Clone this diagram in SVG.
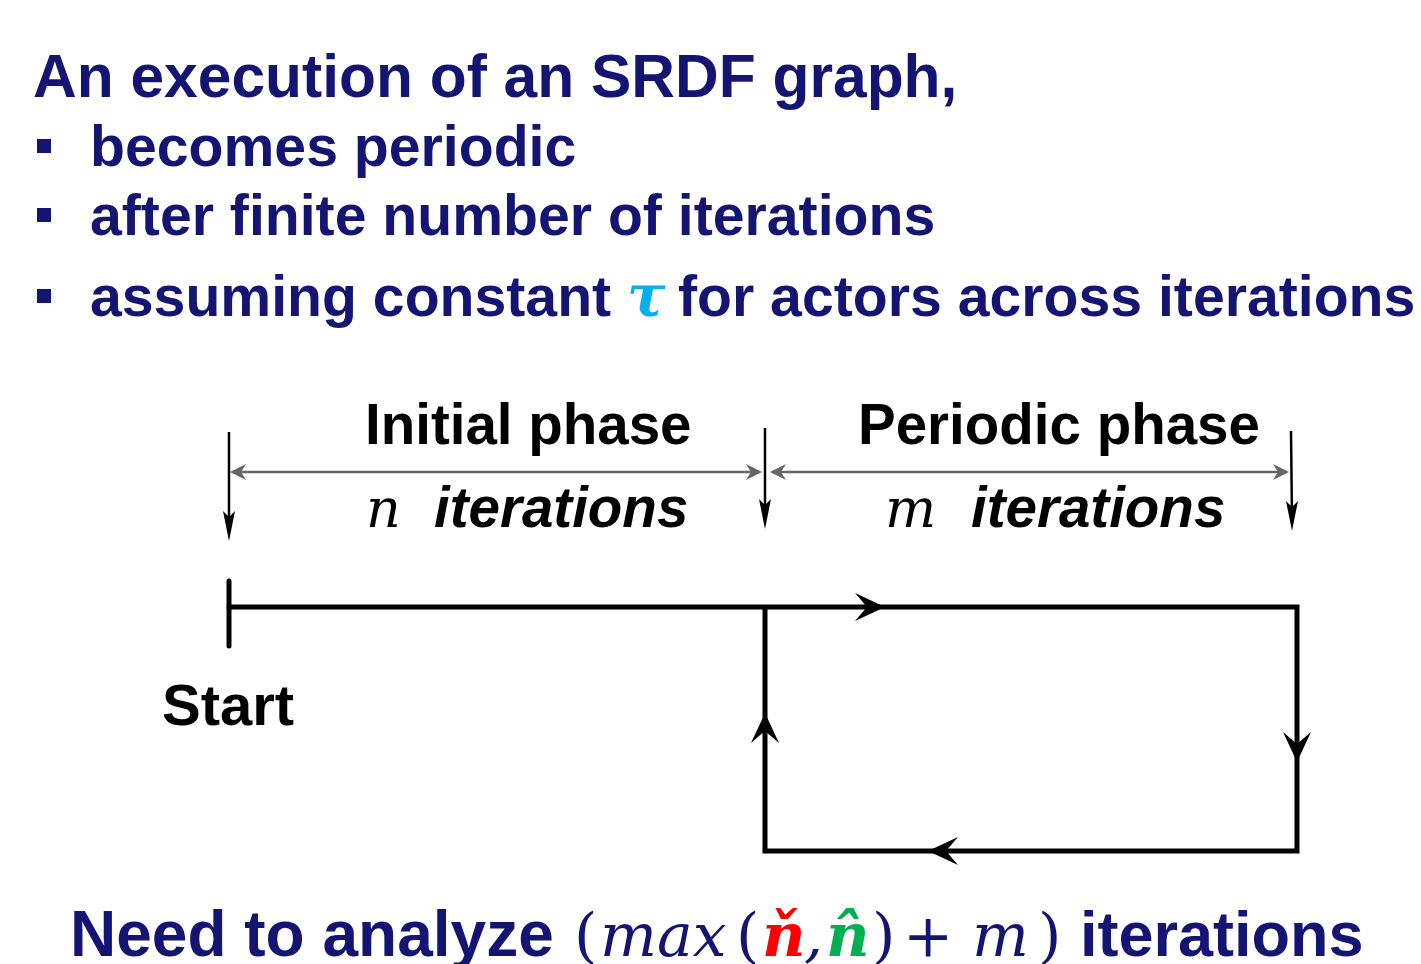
<svg xmlns="http://www.w3.org/2000/svg" width="1421" height="964" viewBox="0 0 1421 964">
<style>
.navy{fill:#141473;font-family:"Liberation Sans",Arial,sans-serif;font-weight:bold}
.blk{fill:#000;font-family:"Liberation Sans",Arial,sans-serif;font-weight:bold}
.math{font-family:"DejaVu Serif","Liberation Serif",serif;font-style:italic}
.loop{stroke:#000;stroke-width:5;fill:none;stroke-linecap:round}
.tick{stroke:#000;stroke-width:2.5;fill:none}
.dim{stroke:#666;stroke-width:2.5;fill:none}
</style>
<defs>
<path id="stealth" d="M0,0 L-30,-14 L-18,0 L-30,14 Z" fill="#000"/>
<path id="small" d="M0,0 L-30,-6 L-24,0 L-30,6 Z" fill="#000"/>
<path id="gray" d="M0,0 L-16,-8 L-11,0 L-16,8 Z" fill="#666"/>
</defs>
<rect width="1421" height="964" fill="#fff"/>
<g id="title">
<text class="navy" x="33" y="97" font-size="60.5">An execution of an SRDF graph,</text>
</g>
<g id="bullets">
<rect x="37" y="139" width="14" height="14" fill="#141473"/>
<rect x="37" y="208" width="14" height="14" fill="#141473"/>
<rect x="37" y="289" width="14" height="14" fill="#141473"/>
<text class="navy" x="90" y="166" font-size="57.2">becomes periodic</text>
<text class="navy" x="90" y="235" font-size="57.2">after finite number of iterations</text>
<text class="navy" x="90" y="316" font-size="57.2">assuming constant <tspan x="627" fill="#00b0f0" font-family="'DejaVu Serif','Liberation Serif',serif" font-style="italic">τ</tspan><tspan x="678">for actors across iterations</tspan></text>
</g>
<g id="labels">
<text class="blk" x="365" y="444" font-size="56.5">Initial phase</text>
<text class="blk" x="858" y="444" font-size="56.5">Periodic phase</text>
<text x="366" y="527" font-size="54" class="math" fill="#000">n</text>
<text class="blk" x="434" y="527" font-size="56.5" font-style="italic">iterations</text>
<text x="885" y="527" font-size="54" class="math" fill="#000">m</text>
<text class="blk" x="971" y="527" font-size="56.5" font-style="italic">iterations</text>
<text class="blk" x="162" y="725" font-size="58">Start</text>
</g>
<g id="connectors">
<line class="tick" x1="229" y1="432" x2="229" y2="530"/>
<use href="#small" transform="translate(229,541) rotate(90)"/>
<line class="tick" x1="765" y1="428" x2="765" y2="518"/>
<use href="#small" transform="translate(765,529) rotate(90)"/>
<line class="tick" x1="1291" y1="431" x2="1292" y2="520"/>
<use href="#small" transform="translate(1292,531) rotate(90)"/>
<line class="dim" x1="232" y1="472" x2="760" y2="472"/>
<use href="#gray" transform="translate(230,472) rotate(180)"/>
<use href="#gray" transform="translate(762,472)"/>
<line class="dim" x1="772" y1="472" x2="1287" y2="472"/>
<use href="#gray" transform="translate(770,472) rotate(180)"/>
<use href="#gray" transform="translate(1289,472)"/>
<line class="loop" x1="229" y1="581" x2="229" y2="646"/>
<path class="loop" d="M229,607 H1297 V851 H765 V607" stroke-linecap="butt" stroke-linejoin="miter"/>
<use href="#stealth" transform="translate(885,607)"/>
<use href="#stealth" transform="translate(1297,762) rotate(90)"/>
<use href="#stealth" transform="translate(928,851) rotate(180)"/>
<use href="#stealth" transform="translate(765,713) rotate(-90)"/>
</g>
<g id="footer">
<text class="navy" x="70" y="956" font-size="64">Need to analyze</text>
<g class="math" font-size="60" fill="#141473">
<text x="574" y="956" font-style="normal">(</text>
<text x="600" y="956">max</text>
<text x="736" y="956" font-style="normal">(</text>
<text x="762" y="956" fill="#ff0000" font-weight="bold">ň</text>
<text x="804" y="956">,</text>
<text x="826" y="956" fill="#00b050" font-weight="bold">n̂</text>
<text x="872" y="956" font-style="normal">)</text>
<text x="903" y="956" font-style="normal">+</text>
<text x="972" y="956">m</text>
<text x="1038" y="956" font-style="normal">)</text>
</g>
<text class="navy" x="1080" y="956" font-size="63">iterations</text>
</g>
</svg>
